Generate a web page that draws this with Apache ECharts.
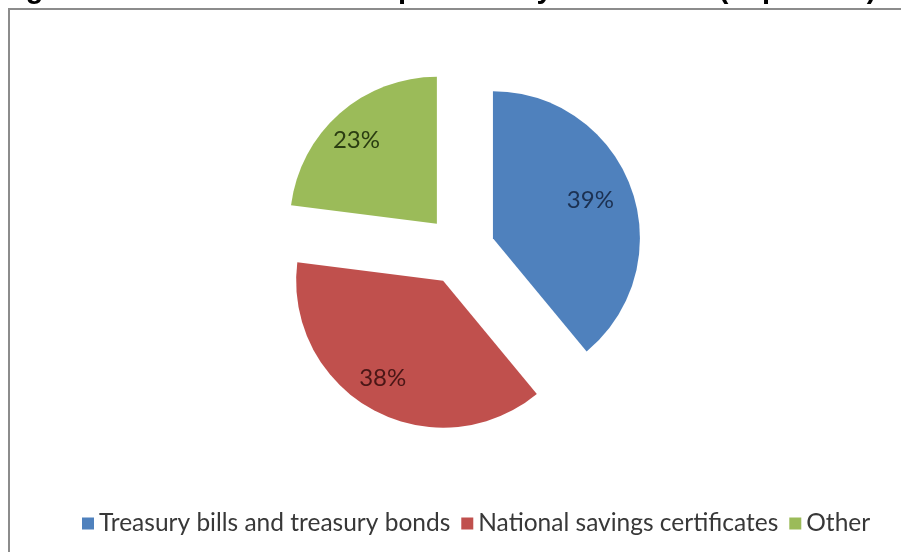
<!DOCTYPE html>
<html>
<head>
<meta charset="utf-8">
<title>Domestic debt composition by instrument</title>
<script src="https://cdn.jsdelivr.net/npm/echarts@6/dist/echarts.min.js"></script>
<style>
  html, body { margin: 0; padding: 0; background: #ffffff; }
  #chart { width: 901px; height: 552px; }
</style>
</head>
<body>
<div id="chart"></div>
<script>
// Debt instruments and their shares of domestic debt (percent)
const categories = ['Treasury bills and treasury bonds', 'National savings certificates', 'Other'];
const shares = [39, 38, 23];
const sliceColors = ['#4F81BD', '#C0504D', '#9BBB59'];
const labelColors = ['#1c3152', '#4a1616', '#2b3d12'];
const titleText = 'Figure 4: Domestic debt composition by instrument (in percent)';

const chart = echarts.init(document.getElementById('chart'), null, { renderer: 'canvas' });

const pieCenter = [460, 250];
const explode = 35;

// Main slices, every slice pulled out from the centre
const sliceData = categories.map((name, i) => ({
  name,
  value: shares[i],
  selected: true,
  itemStyle: { color: sliceColors[i] }
}));

// Transparent ring used only to place the percentage labels further out
const labelData = categories.map((name, i) => ({
  name,
  value: shares[i],
  selected: true,
  itemStyle: { color: 'rgba(0,0,0,0)' },
  label: { color: labelColors[i] }
}));

chart.setOption({
  backgroundColor: '#ffffff',
  animation: false,
  legend: {
    data: categories,
    top: 506,
    left: 77,
    icon: 'rect',
    itemWidth: 12,
    itemHeight: 12,
    itemGap: 11,
    selectedMode: false,
    textStyle: { fontFamily: 'Lato', fontSize: 24.5, color: '#383838', padding: [0, 0, 0, 0] }
  },
  graphic: [
    {
      type: 'rect',
      silent: true,
      shape: { x: 9, y: 9, width: 1000, height: 1000 },
      style: { fill: 'none', stroke: '#8c8c8c', lineWidth: 2 }
    },
    {
      type: 'text',
      silent: true,
      x: 0,
      y: 4,
      style: {
        text: titleText,
        font: 'bold 29px "Liberation Sans", Arial, sans-serif',
        fill: '#000000',
        verticalAlign: 'bottom'
      }
    }
  ],
  series: [
    {
      type: 'pie',
      center: pieCenter,
      radius: [0, 147],
      startAngle: 90,
      clockwise: true,
      selectedMode: 'multiple',
      selectedOffset: explode,
      silent: true,
      label: { show: false },
      labelLine: { show: false },
      emphasis: { disabled: true },
      data: sliceData
    },
    {
      type: 'pie',
      center: pieCenter,
      radius: [0, 216],
      startAngle: 90,
      clockwise: true,
      selectedMode: 'multiple',
      selectedOffset: explode,
      silent: true,
      z: 3,
      label: {
        show: true,
        position: 'inside',
        formatter: '{c}%',
        fontFamily: 'Lato',
        fontSize: 24,
        padding: [0, 14, 8, 0]
      },
      labelLine: { show: false },
      emphasis: { disabled: true },
      data: labelData
    }
  ]
});
</script>
</body>
</html>
